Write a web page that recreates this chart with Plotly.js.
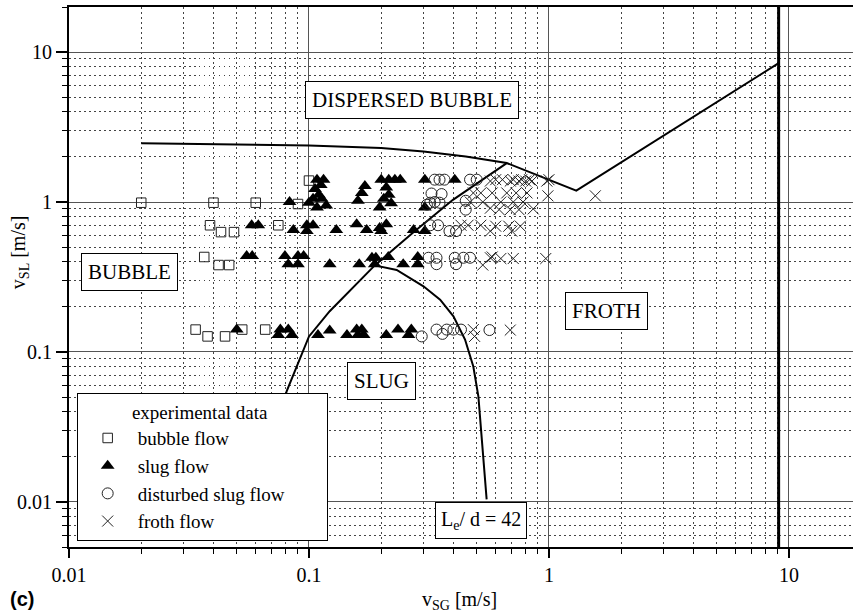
<!DOCTYPE html>
<html>
<head>
<meta charset="utf-8">
<script src="https://cdn.plot.ly/plotly-3.0.1.min.js"></script>
<style>html,body{margin:0;padding:0;background:#fff;}</style>
</head>
<body>
<div id="chart" style="width:853px;height:615px;"></div>
<script>
// ---- Transition boundaries ----
const dispX = [0.02, 0.1, 0.2, 0.3, 0.45, 0.667, 1.3, 9.06];
const dispY = [2.47, 2.38, 2.29, 2.17, 2.01, 1.82, 1.19, 8.45];

const slugLeftX = [0.667, 0.398, 0.271, 0.188, 0.122, 0.1, 0.0807, 0.074];
const slugLeftY = [1.82, 1.035, 0.624, 0.378, 0.187, 0.127, 0.0546, 0.032];

const slugRightX = [0.188, 0.232, 0.3, 0.352, 0.4, 0.447, 0.484, 0.508, 0.55];
const slugRightY = [0.378, 0.352, 0.274, 0.223, 0.173, 0.121, 0.080, 0.0506, 0.0104];

const limitX = [9.06, 9.06];
const limitY = [0.005, 20];

// ---- Experimental data ----
const bubbleX = [0.02, 0.04, 0.06, 0.09, 0.1, 0.0387, 0.043, 0.0487, 0.0745, 0.0366, 0.042, 0.0465, 0.0337, 0.0378, 0.0447, 0.0527, 0.0657];
const bubbleY = [0.99, 0.99, 0.99, 0.97, 1.39, 0.70, 0.63, 0.63, 0.70, 0.43, 0.38, 0.38, 0.141, 0.127, 0.127, 0.141, 0.141];

const slugX = [0.108, 0.115, 0.112, 0.106, 0.11, 0.104, 0.113, 0.1, 0.108, 0.118, 0.083,
  0.16, 0.166, 0.171, 0.2, 0.215, 0.228, 0.24, 0.21, 0.215, 0.205, 0.197, 0.22, 0.304, 0.405, 0.304,
  0.0577, 0.0615, 0.0861, 0.098, 0.098, 0.104, 0.130, 0.158, 0.174, 0.197, 0.21, 0.20, 0.273, 0.304,
  0.055, 0.058, 0.0794, 0.082, 0.09, 0.095, 0.09, 0.122, 0.162, 0.183, 0.19, 0.188, 0.214, 0.247, 0.284, 0.284,
  0.050, 0.0745, 0.082, 0.085, 0.076, 0.109, 0.122, 0.144, 0.158, 0.166, 0.169, 0.16, 0.21, 0.235, 0.26, 0.267];
const slugY = [1.41, 1.41, 1.3, 1.22, 1.12, 1.05, 1.05, 0.99, 0.92, 0.95, 1.0,
  1.02, 1.15, 1.28, 1.41, 1.41, 1.41, 1.41, 1.25, 1.12, 1.05, 0.92, 0.98, 1.41, 1.41, 0.92,
  0.70, 0.70, 0.65, 0.70, 0.64, 0.70, 0.65, 0.71, 0.65, 0.67, 0.71, 0.64, 0.65, 0.64,
  0.436, 0.436, 0.436, 0.385, 0.436, 0.436, 0.385, 0.385, 0.385, 0.425, 0.425, 0.385, 0.43, 0.385, 0.43, 0.385,
  0.141, 0.13, 0.141, 0.13, 0.141, 0.13, 0.139, 0.13, 0.141, 0.141, 0.13, 0.13, 0.13, 0.141, 0.13, 0.141];

const distX = [0.334, 0.35, 0.367, 0.469, 0.5,
  0.324, 0.357, 0.32, 0.334, 0.35, 0.45, 0.45, 0.31,
  0.32, 0.345, 0.385, 0.41,
  0.315, 0.34, 0.34, 0.405, 0.41, 0.44, 0.469,
  0.295, 0.34, 0.36, 0.375, 0.40, 0.43, 0.565];
const distY = [1.41, 1.41, 1.41, 1.41, 1.41,
  1.14, 1.13, 0.99, 1.0, 0.99, 1.02, 0.89, 0.96,
  0.70, 0.70, 0.64, 0.64,
  0.425, 0.425, 0.385, 0.425, 0.385, 0.425, 0.425,
  0.127, 0.141, 0.132, 0.141, 0.141, 0.141, 0.14];

const frothX = [0.57, 0.6, 0.64, 0.69, 0.71, 0.75, 0.77, 0.8, 0.83, 0.85, 0.98, 1.0,
  0.484, 0.52, 0.58, 0.667, 0.73, 0.81, 0.99, 0.47, 0.53, 0.63, 0.71, 0.78, 0.57, 0.62, 0.69, 0.75, 0.86, 1.56,
  0.43, 0.46, 0.52, 0.57, 0.6, 0.68, 0.76, 0.70,
  0.53, 0.57, 0.58, 0.63, 0.71, 0.97,
  0.484, 0.49, 0.69];
const frothY = [1.38, 1.41, 1.41, 1.38, 1.41, 1.38, 1.41, 1.38, 1.41, 1.38, 1.38, 1.41,
  1.15, 1.15, 1.15, 1.15, 1.15, 1.15, 1.1, 1.0, 1.0, 1.0, 1.0, 1.0, 0.91, 0.89, 0.89, 0.89, 0.9, 1.1,
  0.70, 0.70, 0.70, 0.64, 0.69, 0.69, 0.69, 0.64,
  0.38, 0.425, 0.43, 0.42, 0.42, 0.42,
  0.141, 0.127, 0.14];

// ---- Text ----
const regionText = ['DISPERSED BUBBLE', 'BUBBLE', 'FROTH', 'SLUG', 'L<sub>e</sub>/ d = 42'];
const regionX = [0.268, 0.01795, 1.74, 0.2, 0.519];
const regionY = [4.81, 0.340, 0.188, 0.0637, 0.0075];
const seriesNames = ['bubble flow', 'slug flow', 'disturbed slug flow', 'froth flow'];
const legendTitle = 'experimental data';
const xTitle = 'v<sub>SG</sub> [m/s]';
const yTitle = 'v<sub>SL</sub> [m/s]';
const panelLabel = '(c)';

const SERIF = 'Liberation Serif, Times New Roman, Times, serif';
const SANS = 'Liberation Sans, Arial, Helvetica, sans-serif';
const lineStyle = {color: '#000', width: 2};

const traces = [
  {x: dispX, y: dispY, mode: 'lines', line: lineStyle, showlegend: false, hoverinfo: 'skip'},
  {x: slugLeftX, y: slugLeftY, mode: 'lines', line: lineStyle, showlegend: false, hoverinfo: 'skip'},
  {x: slugRightX, y: slugRightY, mode: 'lines', line: lineStyle, showlegend: false, hoverinfo: 'skip'},
  {x: limitX, y: limitY, mode: 'lines', line: {color: '#000', width: 3}, showlegend: false, hoverinfo: 'skip'},
  {x: bubbleX, y: bubbleY, name: seriesNames[0], mode: 'markers',
   marker: {symbol: 'square-open', size: 9.5, color: '#222', line: {width: 1, color: '#222'}}},
  {x: slugX, y: slugY, name: seriesNames[1], mode: 'markers',
   marker: {symbol: 'triangle-up', size: 12, color: '#000', line: {width: 0}}},
  {x: distX, y: distY, name: seriesNames[2], mode: 'markers',
   marker: {symbol: 'circle-open', size: 11, color: '#222', line: {width: 1, color: '#222'}}},
  {x: frothX, y: frothY, name: seriesNames[3], mode: 'markers',
   marker: {symbol: 'x-thin-open', size: 11, color: '#222', line: {width: 1, color: '#222'}}}
];

const annotations = regionText.map((t, i) => ({
  x: Math.log10(regionX[i]), y: Math.log10(regionY[i]), xref: 'x', yref: 'y',
  text: t, showarrow: false, font: {family: SERIF, size: i === 4 ? 20 : 21, color: '#000'},
  bgcolor: '#fff', bordercolor: '#000', borderwidth: 1, borderpad: i === 4 ? 5 : 6,
  xanchor: 'center', yanchor: 'middle'
}));
annotations.push(
  {x: 0.4987, y: -0.099, xref: 'paper', yref: 'paper', text: xTitle, showarrow: false,
   font: {family: SERIF, size: 20, color: '#000'}, xanchor: 'center', yanchor: 'middle'},
  {x: -0.0638, y: 0.546, xref: 'paper', yref: 'paper', text: yTitle, showarrow: false, textangle: -90,
   font: {family: SERIF, size: 20, color: '#000'}, xanchor: 'center', yanchor: 'middle'},
  {x: -0.06, y: -0.096, xref: 'paper', yref: 'paper', text: '<b>' + panelLabel + '</b>', showarrow: false,
   font: {family: SANS, size: 20, color: '#000'}, xanchor: 'center', yanchor: 'middle'}
);

function makeAxis(extra) {
  return Object.assign({
    type: 'log', showline: true, linecolor: '#000', linewidth: 2,
    showgrid: true, gridcolor: '#555', gridwidth: 1, dtick: 1,
    ticks: 'outside', tickcolor: '#000', tickwidth: 1.5,
    tickfont: {family: SERIF, size: 20, color: '#000'},
    zeroline: false, fixedrange: true,
    minor: {dtick: 'D1', ticks: 'outside', ticklen: 5, tickcolor: '#000', tickwidth: 1,
            showgrid: true, gridcolor: '#444', gridwidth: 1, griddash: '1.5px,3.5px'}
  }, extra);
}

const layout = {
  width: 853, height: 615,
  margin: {l: 69, r: 0, t: 7, b: 68},
  font: {family: SERIF, size: 20, color: '#000'},
  paper_bgcolor: '#fff', plot_bgcolor: '#fff',
  xaxis: makeAxis({range: [-2, 1.267], mirror: true, ticklen: 9}),
  yaxis: makeAxis({range: [Math.log10(0.005), Math.log10(20)], ticklen: 11}),
  showlegend: true,
  legend: {
    x: 0.0098, y: 0.2844, xanchor: 'left', yanchor: 'top',
    bgcolor: '#fff', bordercolor: '#000', borderwidth: 1,
    font: {family: SERIF, size: 19, color: '#000'},
    title: {text: '\u00a0'.repeat(11) + legendTitle + '\u00a0'.repeat(12),
            font: {family: SERIF, size: 19, color: '#000'}},
    itemwidth: 50, traceorder: 'normal'
  },
  annotations: annotations
};

Plotly.newPlot('chart', traces, layout, {staticPlot: true, displayModeBar: false});
</script>
</body>
</html>
